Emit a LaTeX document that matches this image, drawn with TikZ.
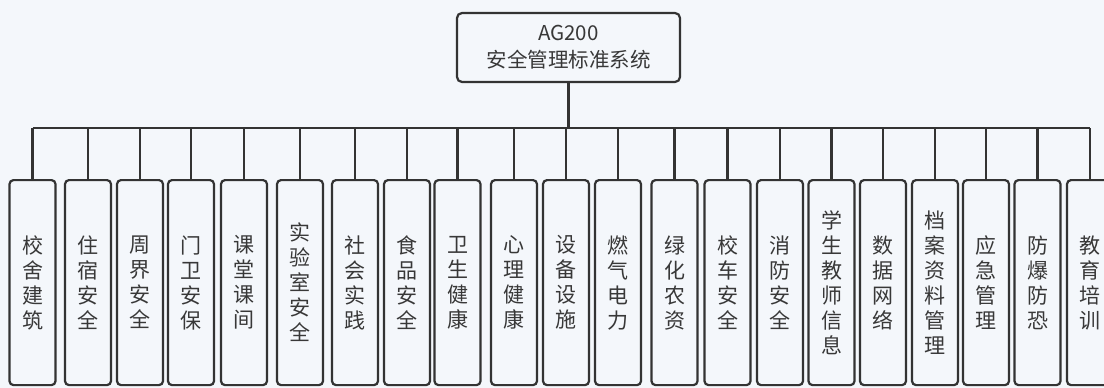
\documentclass[tikz,border=0pt]{standalone}
\usepackage{fontspec}
\setmainfont{Noto Sans CJK SC}
\definecolor{bg}{HTML}{F4F7FB}
\definecolor{ln}{HTML}{333333}
\definecolor{tx}{HTML}{383838}
\tikzset{
  leaf/.style={draw=ln, line width=2.2pt, rounded corners=4pt, minimum width=46pt,
    minimum height=205pt, inner sep=0pt, align=center, text=tx,
    font=\fontsize{21}{25}\selectfont, anchor=north},
  root/.style={draw=ln, line width=2.2pt, rounded corners=5pt, minimum width=223pt,
    minimum height=69pt, inner sep=0pt, align=center, text=tx,
    font=\fontsize{20.5}{27}\selectfont},
  wire/.style={draw=ln, line width=2.2pt}
}
\begin{document}
\begin{tikzpicture}[x=1pt,y=-1pt]
\clip (0,0) rectangle (1104,388);
\fill[bg] (0,0) rectangle (1104,388);
\node[root] (top) at (568.5,47.5) {AG200\\安全管理标准系统};
\coordinate (bus) at (0,128);
\node[leaf] (c1) at (32.5,179) {校\\舍\\建\\筑};
\node[leaf] (c2) at (88,179) {住\\宿\\安\\全};
\node[leaf] (c3) at (140,179) {周\\界\\安\\全};
\node[leaf] (c4) at (191,179) {门\\卫\\安\\保};
\node[leaf] (c5) at (244,179) {课\\堂\\课\\间};
\node[leaf] (c6) at (300,179) {实\\验\\室\\安\\全};
\node[leaf] (c7) at (355,179) {社\\会\\实\\践};
\node[leaf] (c8) at (407,179) {食\\品\\安\\全};
\node[leaf] (c9) at (457.5,179) {卫\\生\\健\\康};
\node[leaf] (c10) at (514,179) {心\\理\\健\\康};
\node[leaf] (c11) at (566,179) {设\\备\\设\\施};
\node[leaf] (c12) at (618,179) {燃\\气\\电\\力};
\node[leaf] (c13) at (674.5,179) {绿\\化\\农\\资};
\node[leaf] (c14) at (727.5,179) {校\\车\\安\\全};
\node[leaf] (c15) at (780,179) {消\\防\\安\\全};
\node[leaf] (c16) at (831.5,179) {学\\生\\教\\师\\信\\息};
\node[leaf] (c17) at (883,179) {数\\据\\网\\络};
\node[leaf] (c18) at (935,179) {档\\案\\资\\料\\管\\理};
\node[leaf] (c19) at (986,179) {应\\急\\管\\理};
\node[leaf] (c20) at (1037.5,179) {防\\爆\\防\\恐};
\node[leaf] (c21) at (1090,179) {教\\育\\培\\训};
\draw[wire] (top.south) -- (top.south |- bus);
\draw[wire] (c1.north |- bus) -- (c21.north |- bus);
\foreach \i in {1,...,21} {
  \draw[wire] (c\i.north) -- (c\i.north |- bus);
}
\end{tikzpicture}
\end{document}
